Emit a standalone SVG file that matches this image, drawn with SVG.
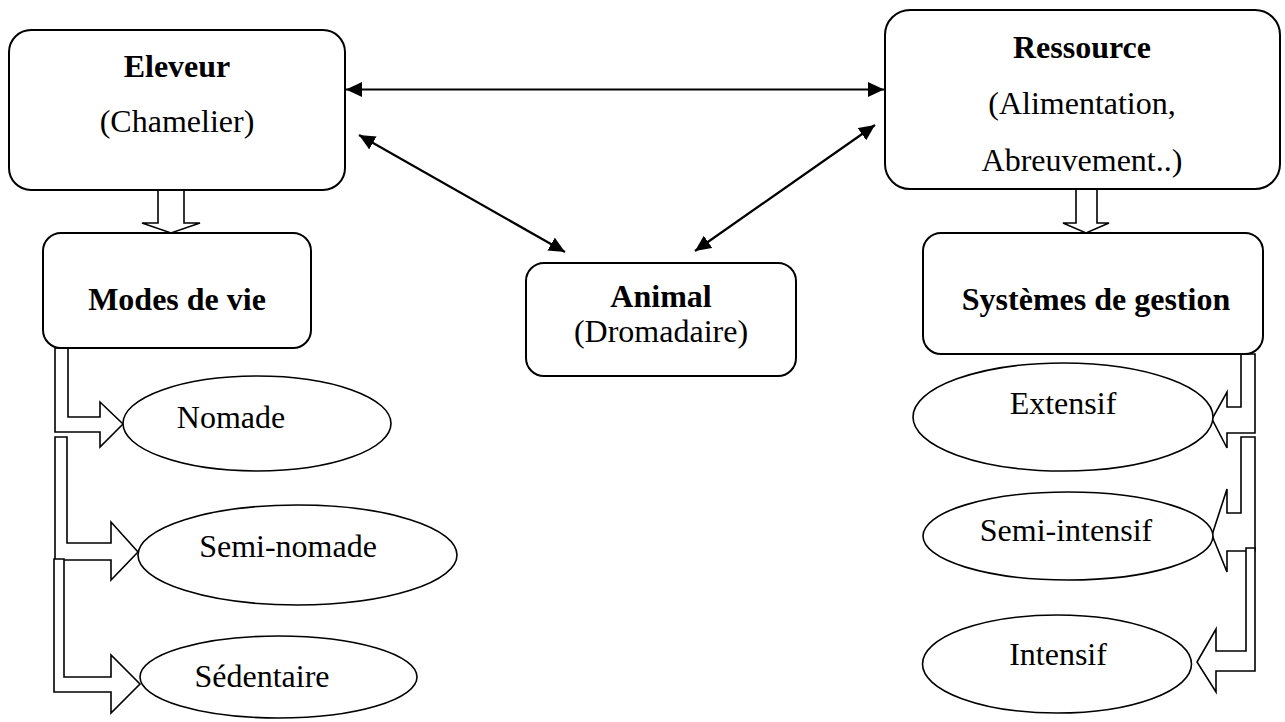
<svg xmlns="http://www.w3.org/2000/svg" width="1285" height="722" viewBox="0 0 1285 722">
  <defs>
    <marker id="ah" viewBox="0 0 10 10" refX="10" refY="5" markerUnits="userSpaceOnUse" markerWidth="16" markerHeight="15" orient="auto-start-reverse" preserveAspectRatio="none">
      <path d="M0,0 L10,5 L0,10 z" fill="#000"/>
    </marker>
  </defs>
  <style>
    .box { fill: #fff; stroke: #000; stroke-width: 2; }
    .ell { fill: #fff; stroke: #000; stroke-width: 1.6; }
    .blk { fill: #fff; stroke: #000; stroke-width: 1.6; stroke-linejoin: miter; }
    .t { font-family: "Liberation Serif", "Times New Roman", serif; font-size: 32px; fill: #000; text-anchor: middle; }
    .b { font-weight: bold; }
    .con { stroke: #000; stroke-width: 2.2; fill: none; marker-start: url(#ah); marker-end: url(#ah); }
  </style>
  <rect width="1285" height="722" fill="#fff"/>

  <g id="connectors">
    <line class="con" x1="346" y1="89.5" x2="884" y2="89.5"/>
    <line class="con" x1="359" y1="135" x2="565" y2="252"/>
    <line class="con" x1="875" y1="125" x2="695" y2="251"/>
    <!-- block arrows down -->
    <polygon class="blk" points="158,190 184,190 184,223 200,223 171,233 142,223 158,223"/>
    <polygon class="blk" points="1076,189 1097,189 1097,223 1109,223 1086,233 1063,223 1076,223"/>
    <!-- left elbow arrows -->
    <polygon class="blk" points="55,348 68,348 68,417 100,417 100,402 123,424 100,447 100,432 55,432"/>
    <polygon class="blk" points="55,437 67,437 67,543 111,543 111,522 138,552 111,580 111,560 55,560"/>
    <polygon class="blk" points="54,559 64,559 64,677 111,677 111,655 140,684 111,713 111,692 54,692"/>
    <!-- right elbow arrows -->
    <polygon class="blk" points="1255,354 1241,354 1241,407 1227,407 1227,392 1212,419 1227,448 1227,433 1255,433"/>
    <polygon class="blk" points="1255,437 1241,437 1241,513 1227,513 1227,489 1212,535 1227,572 1227,551 1255,551"/>
    <polygon class="blk" points="1255,548 1246,548 1246,651 1216,651 1216,629 1197,662 1216,692 1216,671 1255,671"/>
  </g>

  <g id="eleveur">
    <rect class="box" x="9" y="30" width="336" height="160" rx="22" ry="22"/>
    <text class="t b" x="177" y="77">Eleveur</text>
    <text class="t" x="177" y="132">(Chamelier)</text>
  </g>

  <g id="ressource">
    <rect class="box" x="885" y="10" width="395" height="179" rx="25" ry="25"/>
    <text class="t b" x="1082" y="58">Ressource</text>
    <text class="t" x="1082" y="114">(Alimentation,</text>
    <text class="t" x="1082" y="171">Abreuvement..)</text>
  </g>

  <g id="modes">
    <rect class="box" x="43" y="233" width="268" height="115" rx="18" ry="18"/>
    <text class="t b" x="177" y="310">Modes de vie</text>
  </g>

  <g id="animal">
    <rect class="box" x="526" y="263" width="270" height="113" rx="18" ry="18"/>
    <text class="t b" x="661" y="307">Animal</text>
    <text class="t" x="661" y="342">(Dromadaire)</text>
  </g>

  <g id="systemes">
    <rect class="box" x="923" y="233" width="340" height="121" rx="18" ry="18"/>
    <text class="t b" x="1096" y="310">Systèmes de gestion</text>
  </g>

  <g id="nomade">
    <ellipse class="ell" cx="257" cy="423.5" rx="134" ry="47.5"/>
    <text class="t" x="231" y="428">Nomade</text>
  </g>
  <g id="semi-nomade">
    <ellipse class="ell" cx="297.5" cy="555" rx="159.5" ry="50"/>
    <text class="t" x="288" y="557">Semi-nomade</text>
  </g>
  <g id="sedentaire">
    <ellipse class="ell" cx="278.5" cy="677" rx="138.5" ry="41"/>
    <text class="t" x="262" y="687">Sédentaire</text>
  </g>

  <g id="extensif">
    <ellipse class="ell" cx="1063" cy="417" rx="150" ry="54"/>
    <text class="t" x="1063" y="414">Extensif</text>
  </g>
  <g id="semi-intensif">
    <ellipse class="ell" cx="1068" cy="536" rx="145" ry="44"/>
    <text class="t" x="1066" y="541">Semi-intensif</text>
  </g>
  <g id="intensif">
    <ellipse class="ell" cx="1057" cy="664" rx="134.5" ry="49"/>
    <text class="t" x="1058" y="665">Intensif</text>
  </g>
</svg>
